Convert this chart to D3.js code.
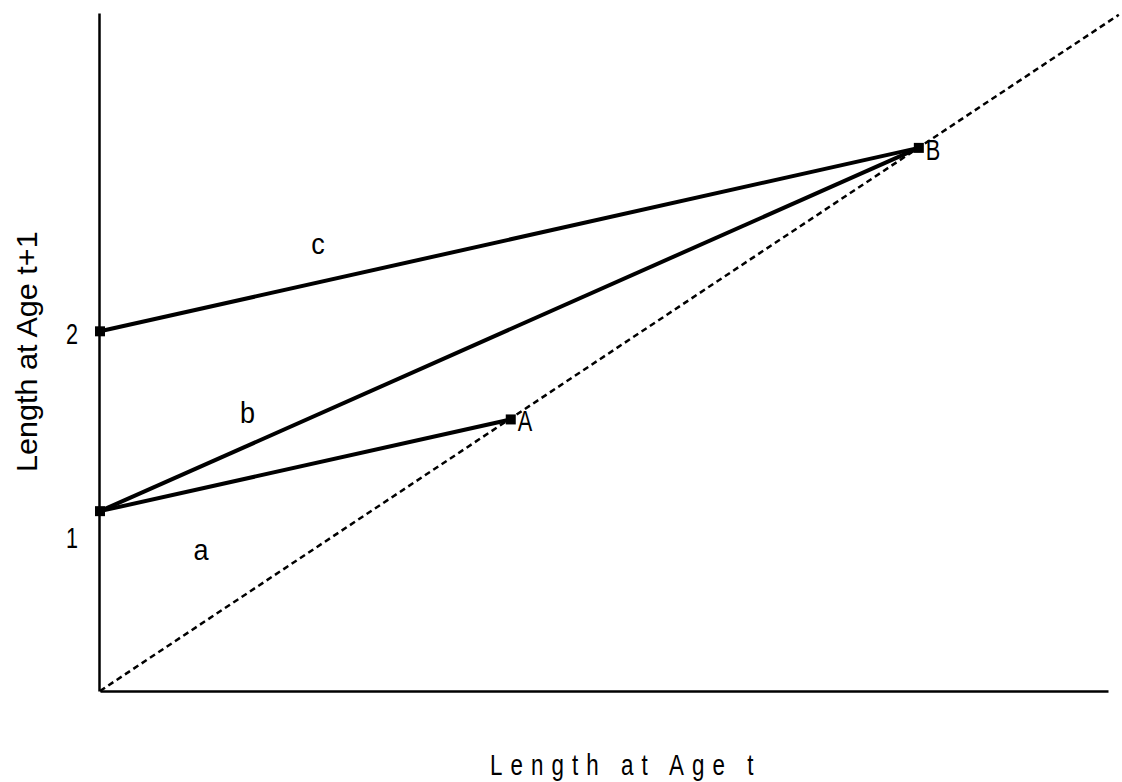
<!DOCTYPE html>
<html>
<head>
<meta charset="utf-8">
<script src="https://cdn.jsdelivr.net/npm/d3@7"></script>
<style>
  body { margin: 0; background: #fff; }
  text { font-family: "Liberation Sans", Arial, sans-serif; fill: #000; }
</style>
</head>
<body>
<div id="chart"></div>
<script>
// Points of the diagram (data units, diagonal is y = x)
const pointNames = ["1", "2", "A", "B"];
const pointX = [0, 0, 1.52, 3.03];
const pointY = [1.0, 2.0, 1.51, 3.02];

// Solid segments between points, with their letters
const segFrom = ["1", "1", "2"];
const segTo = ["A", "B", "B"];
const segLabels = ["a", "b", "c"];
const segLabelX = [0.374, 0.546, 0.807];
const segLabelY = [0.728, 1.489, 2.43];

// Dashed 1:1 line
const diagX = [0, 3.77];
const diagY = [0, 3.76];

const yTickValues = [1, 2];
const yTickLabels = ["1", "2"];
const xTitle = "Length at Age t";
const yTitle = "Length at Age t+1";

const width = 1122, height = 782;
const margin = { top: 13, right: 14, bottom: 91, left: 100 };

const svg = d3.select("#chart")
    .append("svg")
    .attr("width", width)
    .attr("height", height);

const x = d3.scaleLinear().domain([0, 3.73]).range([margin.left, width - margin.right]);
const y = d3.scaleLinear().domain([0, 3.77]).range([height - margin.bottom, margin.top]);

const pts = {};
pointNames.forEach((n, i) => pts[n] = { x: pointX[i], y: pointY[i] });

// narrow looking text: squeeze the glyphs horizontally
function label(str, px, py, size, sx, anchor, rotate) {
    const rot = rotate ? ` rotate(${rotate})` : "";
    return svg.append("text")
        .attr("transform", `translate(${px},${py})${rot} scale(${sx},1)`)
        .attr("text-anchor", anchor || "start")
        .style("font-size", size + "px")
        .text(str);
}

// Axes (domain lines only, with the two y labels)
const xAxis = svg.append("g")
    .attr("transform", `translate(0,${y(0)})`)
    .call(d3.axisBottom(x).tickValues([]).tickSizeOuter(0));
xAxis.select(".domain").attr("stroke", "#000").attr("stroke-width", 2.5);

const tickDy = [36, 12]; // the "1" sits below its mark in the original
const yAxis = svg.append("g")
    .attr("transform", `translate(${x(0) - 1},0)`)
    .call(d3.axisLeft(y)
        .tickValues(yTickValues)
        .tickFormat((d, i) => yTickLabels[i])
        .tickSize(0)
        .tickSizeOuter(0));
yAxis.select(".domain").attr("stroke", "#000").attr("stroke-width", 2.5);
yAxis.selectAll(".tick text")
    .attr("x", 0)
    .attr("y", 0)
    .attr("dy", null)
    .attr("transform", (d, i) => `translate(-21,${tickDy[i]}) scale(0.72,1)`)
    .style("font-size", "30px")
    .style("font-family", "'Liberation Sans', Arial, sans-serif")
    .attr("fill", "#000");

// Dashed diagonal
svg.append("line")
    .attr("x1", x(diagX[0]))
    .attr("y1", y(diagY[0]))
    .attr("x2", x(diagX[1]))
    .attr("y2", y(diagY[1]))
    .attr("stroke", "#000")
    .attr("stroke-width", 2.5)
    .attr("stroke-dasharray", "6,4");

// Solid segments
svg.selectAll(".seg")
    .data(segFrom.map((f, i) => ({ a: pts[f], b: pts[segTo[i]] })))
    .enter()
    .append("line")
    .attr("class", "seg")
    .attr("x1", d => x(d.a.x))
    .attr("y1", d => y(d.a.y))
    .attr("x2", d => x(d.b.x))
    .attr("y2", d => y(d.b.y))
    .attr("stroke", "#000")
    .attr("stroke-width", 4);

// Square markers
const sq = 10;
svg.selectAll(".pt")
    .data(pointNames.map(n => pts[n]))
    .enter()
    .append("rect")
    .attr("class", "pt")
    .attr("x", d => x(d.x) - sq / 2)
    .attr("y", d => y(d.y) - sq / 2)
    .attr("width", sq)
    .attr("height", sq)
    .attr("fill", "#000");

// Point labels A, B
["A", "B"].forEach(n => {
    label(n, x(pts[n].x) + 7, y(pts[n].y) + 12, 29, 0.75);
});

// Segment letters
segLabels.forEach((s, i) => {
    label(s, x(segLabelX[i]), y(segLabelY[i]), 30, 0.9, "middle");
});

// Axis titles
label(xTitle, 490, 775, 29, 0.77).style("letter-spacing", "10.5px");
label(yTitle, 37, 472, 30, 1.02, "start", -90);
</script>
</body>
</html>
